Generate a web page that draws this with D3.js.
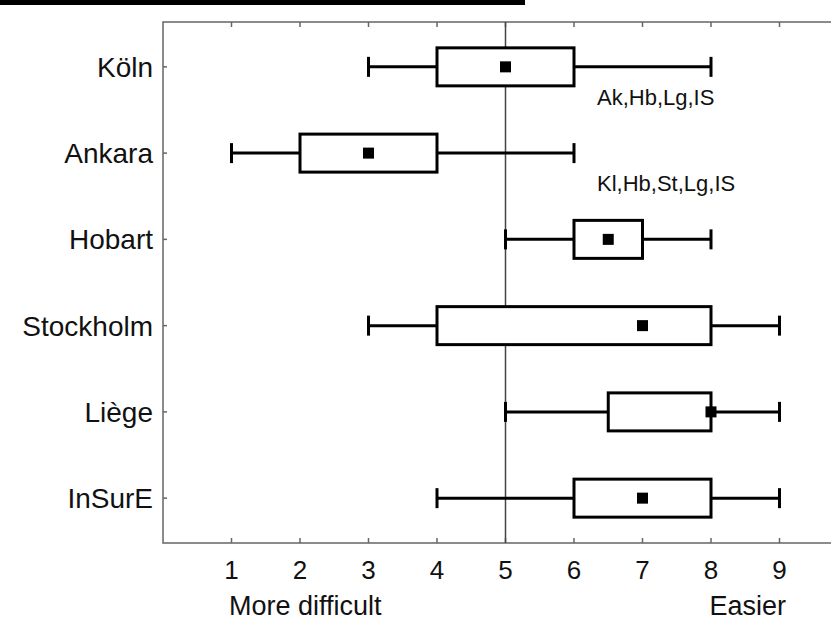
<!DOCTYPE html>
<html>
<head>
<meta charset="utf-8">
<script src="https://d3js.org/d3.v7.min.js"></script>
<style>
    html, body { margin: 0; padding: 0; background: white; }
    svg { display: block; }
    text { font-family: "Liberation Sans", Arial, Helvetica, sans-serif; fill: #111; }
    .frame { stroke: #666; stroke-width: 1.5px; fill: none; }
    .box { stroke: black; stroke-width: 3px; fill: white; }
    .whisker { stroke: black; stroke-width: 3px; }
</style>
</head>
<body>
<svg width="831" height="621"></svg>
<script>
    // data
    let sites = ['Köln', 'Ankara', 'Hobart', 'Stockholm', 'Liège', 'InSurE'];
    let whiskerLow  = [3, 1, 5, 3, 5, 4];
    let boxLow      = [4, 2, 6, 4, 6.5, 6];
    let boxHigh     = [6, 4, 7, 8, 8, 8];
    let whiskerHigh = [8, 6, 8, 9, 9, 9];
    let centre      = [5, 3, 6.5, 7, 8, 7];
    let xTicks = [1, 2, 3, 4, 5, 6, 7, 8, 9];
    let notes = [
        {site: 'Köln', text: 'Ak,Hb,Lg,IS'},
        {site: 'Ankara', text: 'Kl,Hb,St,Lg,IS'}
    ];

    let rows = sites.map((s, i) => ({
        site: s, lo: whiskerLow[i], q1: boxLow[i], q3: boxHigh[i], hi: whiskerHigh[i], mid: centre[i]
    }));

    let svg = d3.select('svg');
    let plotLeft = 163, plotTop = 22, plotBottom = 543;

    let x = d3.scaleLinear().domain([0, 10]).range([plotLeft, plotLeft + 685]);
    let y = d3.scalePoint().domain(sites).range([plotTop, plotBottom]).padding(0.52);

    // cut off title underline at the very top
    svg.append('rect').attr('x', 0).attr('y', 0).attr('width', 525).attr('height', 5).attr('fill', 'black');

    // frame
    svg.append('path').classed('frame', true)
        .attr('d', `M${x.range()[1]},${plotTop}H${plotLeft}V${plotBottom}H${x.range()[1]}`);

    // x ticks, bottom and top, pointing inwards
    svg.selectAll('.tb').data(xTicks).join('line')
        .attr('x1', d => x(d)).attr('x2', d => x(d))
        .attr('y1', plotBottom).attr('y2', plotBottom - 5)
        .attr('stroke', '#666').attr('stroke-width', 1.5);
    svg.selectAll('.tt').data(xTicks).join('line')
        .attr('x1', d => x(d)).attr('x2', d => x(d))
        .attr('y1', plotTop).attr('y2', plotTop + 5)
        .attr('stroke', '#666').attr('stroke-width', 1.5);
    svg.selectAll('.yt').data(sites).join('line')
        .attr('x1', plotLeft).attr('x2', plotLeft + 4)
        .attr('y1', d => y(d)).attr('y2', d => y(d))
        .attr('stroke', '#666').attr('stroke-width', 1.5);

    svg.selectAll('.xl').data(xTicks).join('text')
        .attr('x', d => x(d)).attr('y', 579)
        .attr('text-anchor', 'middle')
        .style('font-size', '26px')
        .text(d => d);

    svg.selectAll('.yl').data(sites).join('text')
        .attr('x', 153).attr('y', d => y(d) + 10)
        .attr('text-anchor', 'end')
        .style('font-size', '28px')
        .text(d => d);

    svg.append('text').attr('x', 229).attr('y', 615).style('font-size', '27px').text('More difficult');
    svg.append('text').attr('x', 786).attr('y', 615).attr('text-anchor', 'end').style('font-size', '27px').text('Easier');

    // reference line at 5
    svg.append('line')
        .attr('x1', x(5)).attr('x2', x(5)).attr('y1', plotTop).attr('y2', plotBottom)
        .attr('stroke', '#444').attr('stroke-width', 1.5);

    let bh = 38, cap = 20, m = 11;
    let g = svg.selectAll('.row').data(rows).join('g');
    g.append('line').classed('whisker', true)
        .attr('x1', d => x(d.lo)).attr('x2', d => x(d.hi))
        .attr('y1', d => y(d.site)).attr('y2', d => y(d.site));
    g.append('line').classed('whisker', true)
        .attr('x1', d => x(d.lo)).attr('x2', d => x(d.lo))
        .attr('y1', d => y(d.site) - cap / 2).attr('y2', d => y(d.site) + cap / 2);
    g.append('line').classed('whisker', true)
        .attr('x1', d => x(d.hi)).attr('x2', d => x(d.hi))
        .attr('y1', d => y(d.site) - cap / 2).attr('y2', d => y(d.site) + cap / 2);
    g.append('rect').classed('box', true)
        .attr('x', d => x(d.q1)).attr('width', d => x(d.q3) - x(d.q1))
        .attr('y', d => y(d.site) - bh / 2).attr('height', bh);
    g.append('rect')
        .attr('x', d => x(d.mid) - m / 2).attr('y', d => y(d.site) - m / 2)
        .attr('width', m).attr('height', m).attr('fill', 'black');

    svg.selectAll('.note').data(notes).join('text')
        .attr('x', 597).attr('y', d => y(d.site) + 38)
        .style('font-size', '22px')
        .text(d => d.text);
</script>
</body>
</html>
